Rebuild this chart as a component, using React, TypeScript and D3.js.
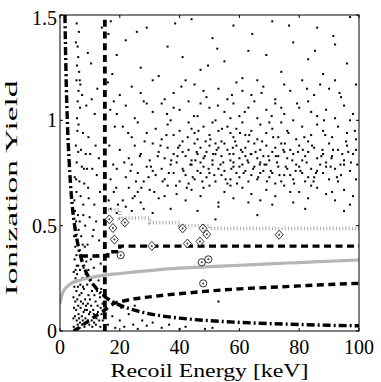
import * as d3 from 'd3'

// Ionization yield vs recoil energy — event scatter with band/threshold curves
const X_TICKS = [0, 20, 40, 60, 80, 100]
const Y_TICKS = [0, 0.5, 1, 1.5]
const Y_TICK_LABELS = ['0', '0.5', '1', '1.5']

// electron-recoil band (main cloud) [keV, yield]
const ER_EVENTS: [number, number][] = [
  [17,1.47],[29,1.44],[44,1.48],[58,1.45],[71,1.47],[86,1.44],[97,1.49],[22,1.38],[36,1.35],[51,1.39],[63,1.33],[78,1.37],[92,1.36],[19,1.31],[41,1.30],[55,1.28],[69,1.31],[83,1.29],[96,1.27],[27,1.25],[47,1.24],[74,1.23],[88,1.22],[33,1.21],[61,1.20],
  [16,1.18],[24,1.16],[31,1.19],[38,1.13],[45,1.17],[49,1.11],[53,1.15],[59,1.18],[64,1.12],[68,1.16],[72,1.10],[77,1.14],[81,1.19],[85,1.12],[90,1.15],[94,1.11],[99,1.17],[20,1.12],[35,1.10],[42,1.19],[56,1.10],[66,1.19],[87,1.17],[27,1.13],[48,1.14],[61,1.14],[75,1.17],[92,1.19],[18,1.09],[29,1.08],
  [19,1.03],[22,1.07],[25,1.01],[31,1.04],[34,1.08],[37,1.00],[40,1.05],[43,1.09],[46,1.02],[50,1.06],[52,1.00],[55,1.04],[58,1.08],[60,1.02],[63,1.06],[66,1.01],[69,1.05],[72,1.08],[75,1.03],[78,1.00],[80,1.06],[83,1.09],[86,1.02],[89,1.05],[92,1.01],[95,1.07],[98,1.03],[28,1.09],[47,1.08],[65,1.09],[84,1.04],[38,1.06],[57,1.01],[74,1.06],[97,1.00],
  [21,0.97],[24,0.92],[26,0.99],[29,0.94],[32,0.96],[34,0.91],[36,0.98],[38,0.93],[40,0.95],[41,0.90],[43,0.99],[45,0.94],[46,0.91],[48,0.97],[50,0.93],[51,0.99],[53,0.95],[54,0.90],[56,0.97],[58,0.92],[59,0.96],[61,0.99],[62,0.93],[64,0.95],[66,0.91],[67,0.98],[69,0.94],[71,0.96],[73,0.92],[74,0.99],[76,0.95],[79,0.91],[81,0.97],[84,0.93],[86,0.98],[88,0.95],[91,0.92],[93,0.97],[96,0.94],[99,0.91],[44,0.96],[57,0.94],[63,0.90],[70,0.99],[83,0.90],
  [20,0.86],[23,0.82],[25,0.88],[27,0.84],[30,0.81],[31,0.89],[33,0.85],[35,0.82],[36,0.87],[38,0.84],[39,0.80],[40,0.88],[42,0.83],[43,0.86],[44,0.81],[45,0.89],[46,0.84],[47,0.87],[48,0.82],[49,0.85],[50,0.88],[51,0.81],[52,0.84],[53,0.87],[54,0.83],[55,0.89],[56,0.86],[57,0.81],[58,0.84],[59,0.88],[60,0.82],[61,0.85],[62,0.87],[63,0.80],[64,0.84],[65,0.89],[66,0.82],[67,0.86],[68,0.83],[69,0.88],[70,0.81],[71,0.85],[72,0.87],[73,0.83],[74,0.89],[76,0.82],[77,0.86],[78,0.84],[80,0.88],[81,0.81],[83,0.85],[85,0.87],[86,0.82],[88,0.84],[90,0.89],[91,0.83],[93,0.86],[95,0.81],[96,0.88],[98,0.84],[99,0.86],[41,0.85],[47,0.80],[52,0.89],[58,0.80],[62,0.83],[67,0.80],[75,0.85],[82,0.83],[89,0.80],
  [19,0.77],[22,0.73],[24,0.79],[26,0.75],[28,0.71],[29,0.78],[32,0.74],[34,0.77],[35,0.72],[37,0.79],[38,0.75],[40,0.71],[41,0.77],[42,0.74],[44,0.79],[45,0.72],[46,0.76],[48,0.78],[49,0.73],[50,0.75],[51,0.79],[52,0.71],[53,0.77],[54,0.74],[55,0.76],[57,0.72],[58,0.78],[59,0.75],[60,0.73],[61,0.79],[62,0.76],[63,0.71],[64,0.74],[65,0.78],[66,0.72],[68,0.76],[69,0.79],[70,0.73],[71,0.75],[72,0.70],[73,0.78],[75,0.74],[76,0.77],[78,0.72],[79,0.79],[81,0.75],[82,0.71],[84,0.77],[85,0.73],[87,0.79],[88,0.75],[90,0.72],[92,0.77],[94,0.74],[95,0.79],[97,0.76],[99,0.72],[43,0.70],[47,0.75],[56,0.70],[60,0.78],[67,0.75],[74,0.71],[77,0.74],[80,0.78],[83,0.73],[86,0.76],[89,0.78],[93,0.71],[31,0.76],
  [18,0.66],[21,0.62],[23,0.68],[25,0.64],[27,0.61],[30,0.67],[33,0.63],[36,0.69],[39,0.65],[42,0.62],[44,0.67],[47,0.64],[50,0.69],[53,0.61],[55,0.66],[58,0.63],[61,0.68],[64,0.65],[67,0.62],[69,0.67],[72,0.64],[75,0.69],[78,0.61],[80,0.66],[83,0.63],[86,0.68],[89,0.65],[92,0.62],[95,0.67],[98,0.64],[26,0.66],[35,0.64],[48,0.68],[57,0.69],[63,0.61],[71,0.60],[77,0.66],[84,0.69],[91,0.66],[97,0.60],
  [17,0.58],[19,0.56],[22,0.59],[24,0.57],[28,0.58],[31,0.56],[37,0.58],[46,0.57],[53,0.59],[66,0.55],[82,0.58],[95,0.57],[52,0.53],
  [16.2,1.41],[17.5,1.22],[16.8,1.05],[18.3,0.97],[16.5,0.88],[17.8,0.79],[16.9,0.72],[18.8,0.68],[16.3,0.62],[19.4,0.60],
]

// extra events in the dense core of the band
const ER_CORE_EVENTS: [number, number][] = [
  [30.4,0.78],[32.7,0.83],[34.3,0.71],[35.6,0.93],[37.2,0.81],[38.8,0.69],[39.5,0.87],[41.3,0.76],[42.7,0.92],[43.6,0.79],[44.4,0.73],[45.7,0.85],[46.3,0.95],[47.6,0.71],[48.4,0.83],[49.7,0.77],[50.3,0.91],[51.6,0.74],[52.4,0.86],[53.7,0.79],[54.2,0.96],[55.4,0.72],[56.7,0.84],[57.3,0.77],[58.6,0.90],[59.2,0.70],[60.5,0.86],[61.4,0.75],[62.7,0.81],[63.3,0.93],[64.6,0.77],[65.4,0.85],[66.3,0.73],[67.6,0.90],[68.4,0.79],[69.7,0.83],[70.5,0.76],[71.3,0.92],[72.6,0.80],[73.4,0.74],[74.7,0.86],[75.5,0.78],[76.4,0.94],[77.7,0.81],[78.3,0.70],[79.6,0.85],[80.4,0.76],[81.7,0.92],[82.5,0.80],[84.3,0.88],[85.6,0.75],[87.4,0.83],[88.7,0.93],[90.5,0.78],[91.3,0.86],[92.6,0.73],[94.4,0.84],[95.7,0.90],[97.3,0.80],[98.6,0.95],
  [33.6,0.88],[36.4,0.75],[39.3,0.83],[42.4,0.68],[45.3,0.81],[48.7,0.90],[51.2,0.84],[54.6,0.80],[57.8,0.87],[60.2,0.94],[63.8,0.84],[66.8,0.79],[69.2,0.71],[72.2,0.83],[75.2,0.89],[78.8,0.76],[81.2,0.86],[84.8,0.71],[87.8,0.86],[90.8,0.82],[93.8,0.79],[96.4,0.85],[99.4,0.79],
  [21.5,0.80],[23.6,0.76],[25.4,0.71],[26.7,0.83],[28.3,0.90],[22.8,0.94],[27.2,0.68],[24.3,0.63],[29.6,0.73],[31.5,0.66],
  [44.8,1.02],[52.8,1.07],[61.8,1.04],[70.8,1.02],[79.3,1.08],[88.3,1.00],[35.8,1.03],[57.5,1.12],[67.4,1.13],[82.6,1.15],[93.5,1.13],[40.6,1.16],[49.5,1.26],[64.3,1.41],[85.3,1.33],[25.7,1.42],[38.5,1.46],[76.6,1.45],[91.4,1.40],[52.6,1.34],
]

// low-energy events near threshold (E < 15 keV)
const LOW_E_EVENTS: [number, number][] = [
  [5.6,1.46],[6.3,1.42],[5.3,1.37],[9.3,1.32],[10.4,1.27],[6.1,1.30],[5.7,1.26],[6.4,1.23],[5.5,1.19],[6.8,1.17],[6.2,1.14],[7.4,1.12],[5.9,1.09],[6.7,1.06],[8.8,1.07],[11.6,1.03],[14.0,1.44],[12.5,1.15],
  [6.2,0.98],[5.8,0.95],[7.7,0.94],[9.5,0.92],[5.3,0.88],[7.0,0.86],[8.6,0.84],[10.1,0.84],[13.0,0.82],[5.6,0.80],[7.3,0.78],[9.0,0.77],[10.8,0.77],[12.3,0.74],[4.9,0.73],[6.5,0.71],[8.1,0.70],[9.4,0.68],[5.5,0.66],[6.9,0.64],[7.8,0.60],[9.6,0.63],[11.5,0.60],[13.4,0.66],[4.8,0.62],
  [5.0,0.57],[6.0,0.55],[6.6,0.52],[8.4,0.50],[5.4,0.52],[6.2,0.48],[7.1,0.45],[7.6,0.41],[8.3,0.40],[9.2,0.41],[5.3,0.45],[5.8,0.42],[6.4,0.38],[5.5,0.36],[7.2,0.35],[8.8,0.33],[10.3,0.34],[6.1,0.31],[7.9,0.30],[9.5,0.29],[11.3,0.30],[12.4,0.36],[13.6,0.32],[10.9,0.45],[12.1,0.52],
  [4.6,0.28],[5.2,0.25],[5.7,0.27],[6.3,0.24],[4.8,0.21],[5.5,0.19],[6.0,0.21],[6.8,0.22],[7.5,0.25],[8.6,0.27],[4.5,0.16],[5.1,0.14],[5.8,0.15],[6.5,0.17],[7.2,0.18],[8.0,0.20],[9.1,0.22],[10.0,0.25],[4.7,0.11],[5.4,0.10],[6.1,0.12],[6.9,0.11],[7.7,0.13],[8.4,0.15],[9.5,0.17],[10.7,0.19],[11.8,0.21],[12.9,0.24],
  [4.5,0.06],[5.0,0.07],[5.6,0.05],[6.2,0.08],[6.7,0.04],[7.3,0.07],[7.9,0.09],[8.5,0.06],[9.0,0.10],[9.7,0.08],[10.4,0.12],[11.1,0.10],[11.9,0.14],[12.6,0.12],[13.4,0.16],[14.2,0.13],[4.6,0.02],[5.3,0.01],[5.9,0.03],[6.6,0.015],[7.4,0.03],[8.2,0.02],[8.9,0.04],[9.8,0.03],[10.6,0.05],[11.4,0.04],[12.2,0.06],[13.1,0.05],[13.9,0.08],[14.6,0.10],[7.0,0.14],[8.7,0.12],[10.0,0.15],[11.5,0.17],[12.4,0.19],[13.8,0.20],[14.4,0.17],
  [4.7,0.45],[5.1,0.40],[4.9,0.34],[5.6,0.31],[5.2,0.29],[6.7,0.29],[7.7,0.21],[8.3,0.10],[9.3,0.13],[10.1,0.09],[11.3,0.08],[12.7,0.09],[13.6,0.11],[14.3,0.05],[6.4,0.06],[7.6,0.05],[9.4,0.05],[10.8,0.02],[12.0,0.03],[13.5,0.02],[5.4,0.72],[6.1,0.85],[5.7,1.01],[6.6,1.19],[5.9,1.35],[7.8,0.55],[9.9,0.54],[11.2,0.48],[13.1,0.43],[8.0,0.77],[11.9,0.88],[10.6,1.10],
]

// sparse events near the bottom, above 15 keV
const LOW_YIELD_EVENTS: [number, number][] = [
  [16,0.03],[17.5,0.07],[18.5,0.015],[20,0.05],[21.5,0.02],[23,0.08],[24.5,0.03],[26,0.01],[27.5,0.05],[29,0.025],[31,0.04],[34,0.015],[36.5,0.03],[40,0.01],[42,0.02],[48.5,0.01],[51,0.015],[53,0.14],[20.5,0.11],[25,0.12],
]

const DIAMOND_EVENTS: [number, number][] = [
  [16.5,0.53],[21.7,0.515],[17.7,0.489],[18.2,0.434],[41.0,0.487],[47.8,0.487],[49.1,0.459],[73.3,0.457],[42.6,0.415],[46.8,0.425],[30.7,0.404],
]
const CIRCLE_EVENTS: [number, number][] = [[20.3,0.36],[47.4,0.326],[49.6,0.34],[47.9,0.226]]

// curves
const THRESHOLD: [number, number][] = [
  [1.65,1.5],[2,1.23],[2.5,0.98],[3,0.82],[3.5,0.7],[4,0.61],[5,0.49],[6,0.41],[7,0.35],[8,0.305],[10,0.245],[12,0.205],[15,0.163],[18,0.136],[22,0.112],[27,0.091],[33,0.074],[40,0.061],[50,0.049],[60,0.041],[70,0.035],[80,0.031],[90,0.027],[100,0.025],
]
const NR_LOWER: [number, number][] = [
  [4.5,0],[6,0.012],[8,0.033],[10,0.052],[12,0.072],[14,0.09],[16,0.11],[18,0.13],[21,0.142],[25,0.153],[30,0.162],[36,0.172],[43,0.181],[50,0.19],[60,0.2],[70,0.207],[80,0.214],[90,0.221],[100,0.226],
]
const NR_CENTER: [number, number][] = [
  [0,0.13],[0.5,0.165],[1,0.185],[2,0.205],[3,0.218],[4,0.228],[6,0.238],[8,0.247],[11,0.256],[15,0.265],[20,0.273],[30,0.287],[40,0.298],[50,0.306],[60,0.312],[70,0.319],[80,0.325],[90,0.331],[100,0.337],
]
const ER_CUT: [number, number][] = [[7,0.356],[16,0.376],[20,0.403],[100,0.403]]
const ER_LOWER: [number, number][] = [[15,0.575],[20,0.536],[30,0.514],[40,0.5],[50,0.487],[100,0.487]]
const RECOIL_THRESHOLD = 15

const W = 381, H = 382
const M = { left: 60, right: 22, top: 15, bottom: 51 }
const FONT = '"Liberation Serif", "Times New Roman", Times, serif'

export default function App() {
  const x = d3.scaleLinear().domain([0, 100]).range([M.left, W - M.right])
  const y = d3.scaleLinear().domain([0, 1.5]).range([H - M.bottom, M.top])
  const line = d3.line<[number, number]>().x(d => x(d[0])).y(d => y(d[1]))
  const smooth = d3.line<[number, number]>().x(d => x(d[0])).y(d => y(d[1])).curve(d3.curveMonotoneX)
  const step = d3.line<[number, number]>().x(d => x(d[0])).y(d => y(d[1])).curve(d3.curveStepAfter)
  const [x0, x1] = x.range()
  const [y0, y1] = y.range()
  const dots = [...ER_EVENTS, ...ER_CORE_EVENTS, ...LOW_E_EVENTS, ...LOW_YIELD_EVENTS]

  return (
    <svg width={W} height={H} style={{ position: 'absolute', left: 0, top: 0, background: '#fff' }} fontFamily={FONT}>
      <defs>
        <clipPath id="plot-clip">
          <rect x={x0} y={y1} width={x1 - x0} height={y0 - y1} />
        </clipPath>
      </defs>

      <g clipPath="url(#plot-clip)">
        {dots.map((d, i) => (
          <rect key={i} x={x(d[0]) - 1} y={y(d[1]) - 1} width={2} height={2} fill="#000" />
        ))}
        <path d={smooth(NR_CENTER) ?? ''} fill="none" stroke="#b5b5b5" strokeWidth={3.2} />
        <path d={step(ER_LOWER) ?? ''} fill="none" stroke="#a8a8a8" strokeWidth={3.5} strokeDasharray="1,2.2" />
        <path d={smooth(NR_LOWER) ?? ''} fill="none" stroke="#000" strokeWidth={3.4} strokeDasharray="7,4.5" />
        <path d={step(ER_CUT) ?? ''} fill="none" stroke="#000" strokeWidth={3.4} strokeDasharray="7,4.5" />
        <path d={smooth(THRESHOLD) ?? ''} fill="none" stroke="#000" strokeWidth={3.4} strokeDasharray="8,3,2,3" />
        <path d={line([[RECOIL_THRESHOLD, 0], [RECOIL_THRESHOLD, 1.5]]) ?? ''} fill="none" stroke="#000" strokeWidth={3.8} strokeDasharray="7,4.7" />
        {DIAMOND_EVENTS.map((d, i) => {
          const cx = x(d[0]), cy = y(d[1])
          return (
            <g key={'d' + i}>
              <path d={`M${cx},${cy - 4.5}L${cx + 4},${cy}L${cx},${cy + 4.5}L${cx - 4},${cy}Z`} fill="#fff" stroke="#333" strokeWidth={1} />
              <circle cx={cx} cy={cy} r={1} fill="#333" />
            </g>
          )
        })}
        {CIRCLE_EVENTS.map((d, i) => {
          const cx = x(d[0]), cy = y(d[1])
          return (
            <g key={'c' + i}>
              <circle cx={cx} cy={cy} r={3.6} fill="#fff" stroke="#333" strokeWidth={1} />
              <circle cx={cx} cy={cy} r={1} fill="#333" />
            </g>
          )
        })}
      </g>

      <rect x={x0} y={y1} width={x1 - x0} height={y0 - y1} fill="none" stroke="#000" strokeWidth={1} />
      {X_TICKS.map(t => (
        <g key={'xt' + t}>
          <line x1={x(t)} x2={x(t)} y1={y0} y2={y0 - 3} stroke="#000" />
          <line x1={x(t)} x2={x(t)} y1={y1} y2={y1 + 3} stroke="#000" />
          <text x={x(t)} y={y0 + 23} textAnchor="middle" fontSize={20}>{t}</text>
        </g>
      ))}
      {Y_TICKS.map((t, i) => (
        <g key={'yt' + t}>
          <line x1={x0} x2={x0 + 3} y1={y(t)} y2={y(t)} stroke="#000" />
          <line x1={x1} x2={x1 - 3} y1={y(t)} y2={y(t)} stroke="#000" />
          <text x={x0 - 3} y={t === 1.5 ? y(t) + 10 : y(t) + 7} textAnchor="end" fontSize={20}>{Y_TICK_LABELS[i]}</text>
        </g>
      ))}
      <text x={(x0 + x1) / 2} y={377} textAnchor="middle" fontSize={19} textLength={198} lengthAdjust="spacingAndGlyphs">Recoil Energy [keV]</text>
      <text transform={`translate(17,${188}) rotate(-90)`} textAnchor="middle" fontSize={17} textLength={215} lengthAdjust="spacingAndGlyphs">Ionization Yield</text>
    </svg>
  )
}
